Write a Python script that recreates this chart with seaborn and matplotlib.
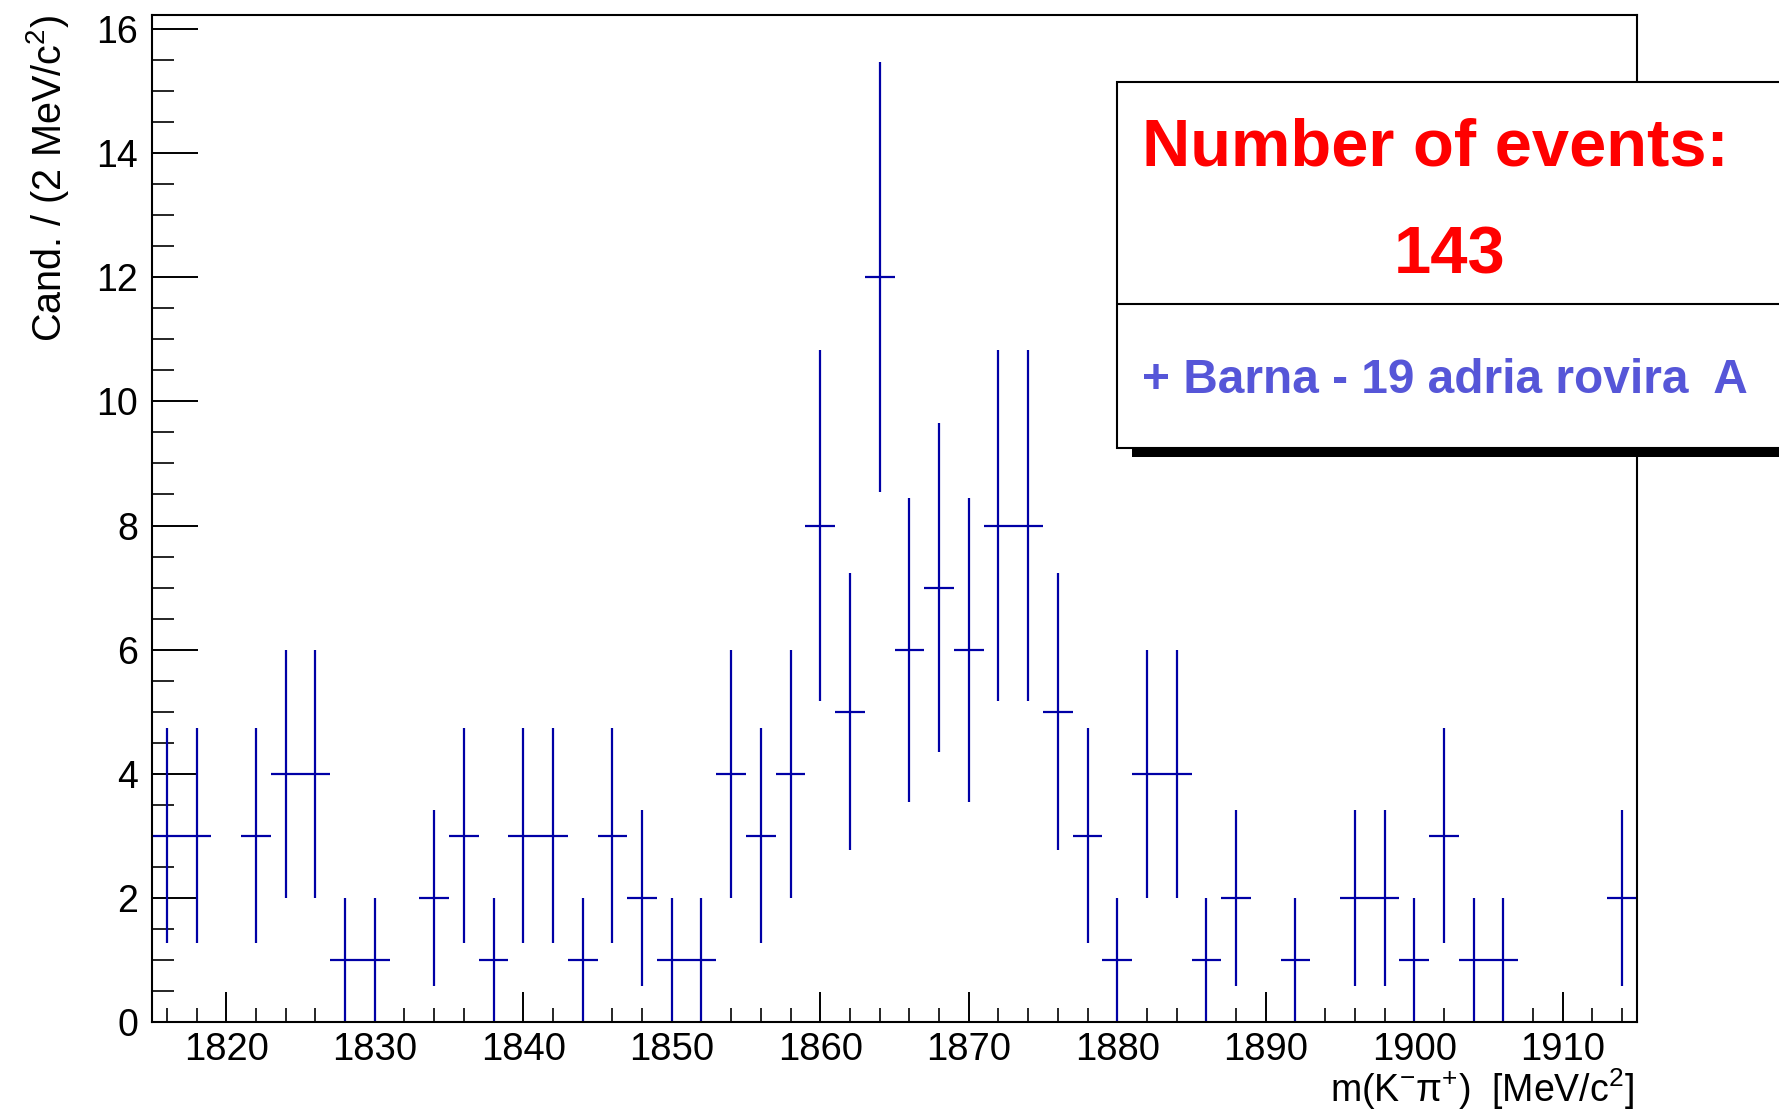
import numpy as np
import pandas as pd
import matplotlib
matplotlib.use("Agg")
import matplotlib.pyplot as plt
from matplotlib.patches import Rectangle
from matplotlib.lines import Line2D
from matplotlib.ticker import MultipleLocator
import seaborn as sns

# ---- data (bin centres in MeV/c^2, counts per 2 MeV bin) ----
bin_centers = [1816, 1818, 1820, 1822, 1824, 1826, 1828, 1830, 1832, 1834,
               1836, 1838, 1840, 1842, 1844, 1846, 1848, 1850, 1852, 1854,
               1856, 1858, 1860, 1862, 1864, 1866, 1868, 1870, 1872, 1874,
               1876, 1878, 1880, 1882, 1884, 1886, 1888, 1890, 1892, 1894,
               1896, 1898, 1900, 1902, 1904, 1906, 1908, 1910, 1912, 1914]
counts = [3, 3, 0, 3, 4, 4, 1, 1, 0, 2,
          3, 1, 3, 3, 1, 3, 2, 1, 1, 4,
          3, 4, 8, 5, 12, 6, 7, 6, 8, 8,
          5, 3, 1, 4, 4, 1, 2, 0, 1, 0,
          2, 2, 1, 3, 1, 1, 0, 0, 0, 2]
bin_half_width = 1.0
x_range = (1815, 1915)
y_max = 16.226
x_ticks = [1820, 1830, 1840, 1850, 1860, 1870, 1880, 1890, 1900, 1910]
y_ticks = [0, 2, 4, 6, 8, 10, 12, 14, 16]
legend_title = "Number of events:"
legend_entry = "+ Barna - 19 adria rovira  A"
x_label = "m(K$^{-}$π$^{+}$)  [MeV/c$^{2}$]"
y_label = "Cand. / (2 MeV/c$^{2}$)"

df = pd.DataFrame({"mass": bin_centers, "n": counts})
df = df[df["n"] > 0].copy()
df["err"] = np.sqrt(df["n"])
total = int(np.sum(counts))

sns.set_theme(style="ticks")
plt.rcParams["font.family"] = ["Liberation Sans", "DejaVu Sans"]
plt.rcParams["mathtext.fontset"] = "custom"
plt.rcParams["mathtext.rm"] = "Liberation Sans"
plt.rcParams["mathtext.it"] = "Liberation Sans"
plt.rcParams["mathtext.bf"] = "Liberation Sans:bold"

W, H = 1779, 1116
fig = plt.figure(figsize=(W / 100, H / 100), dpi=100)
fig.patch.set_facecolor("white")
ax = fig.add_axes([152 / W, 1 - 1022 / H, (1637 - 152) / W, (1022 - 15) / H])
ax.set_facecolor("white")

data_color = "#0000a6"
ax.errorbar(df["mass"], df["n"], xerr=bin_half_width, yerr=df["err"],
            fmt="none", ecolor=data_color, elinewidth=1.6, capsize=0, zorder=2)

ax.set_xlim(*x_range)
ax.set_ylim(0, y_max)
ax.set_xticks(x_ticks)
ax.set_yticks(y_ticks)
ax.xaxis.set_minor_locator(MultipleLocator(2))
ax.yaxis.set_minor_locator(MultipleLocator(0.5))
ax.tick_params(axis="y", which="major", direction="in", length=33, width=1.4,
               labelsize=27, pad=10, colors="black", right=False)
ax.tick_params(axis="y", which="minor", direction="in", length=16, width=1.4, right=False)
ax.tick_params(axis="x", which="major", direction="in", length=21.5, width=1.4,
               labelsize=27.5, pad=7, colors="black", top=False)
ax.tick_params(axis="x", which="minor", direction="in", length=10, width=1.4, top=False)
for s in ax.spines.values():
    s.set_color("black")
    s.set_linewidth(1.5)
    s.set_visible(True)
ax.grid(False)

fig.text(48 / W, 1 - 15 / H, y_label, rotation=90, ha="center", va="top",
         fontsize=28.5, color="black")
fig.text(1634 / W, 1 - 1112 / H, x_label, ha="right", va="bottom",
         fontsize=27, color="black")

# ---- legend box (ROOT TPaveText/TLegend style, running off the right edge) ----
bx0, by_top, by_bot, bdiv = 1117, 82, 448, 304
shadow = Rectangle((1132 / W, 1 - 457 / H), (W + 50 - 1132) / W, (457 - 100) / H,
                   transform=fig.transFigure, facecolor="black", edgecolor="none",
                   zorder=5)
box = Rectangle((bx0 / W, 1 - by_bot / H), (W + 50 - bx0) / W, (by_bot - by_top) / H,
                transform=fig.transFigure, facecolor="white", edgecolor="black",
                linewidth=1.5, zorder=6)
fig.add_artist(shadow)
fig.add_artist(box)
fig.add_artist(Line2D([bx0 / W, 1.02], [1 - bdiv / H, 1 - bdiv / H],
                      transform=fig.transFigure, color="black", linewidth=1.5, zorder=7))
fig.text(1142 / W, 1 - 165 / H, legend_title, ha="left", va="baseline",
         fontsize=48.2, fontweight="bold", color="#ff0000", zorder=8)
fig.text(1450 / W, 1 - 273 / H, str(total), ha="center", va="baseline",
         fontsize=48.2, fontweight="bold", color="#ff0000", zorder=8)
fig.text(1142 / W, 1 - 393 / H, legend_entry, ha="left", va="baseline",
         fontsize=34.5, fontweight="bold", color="#5656d8", zorder=8)

fig.savefig("out.png", dpi=100, facecolor="white")
